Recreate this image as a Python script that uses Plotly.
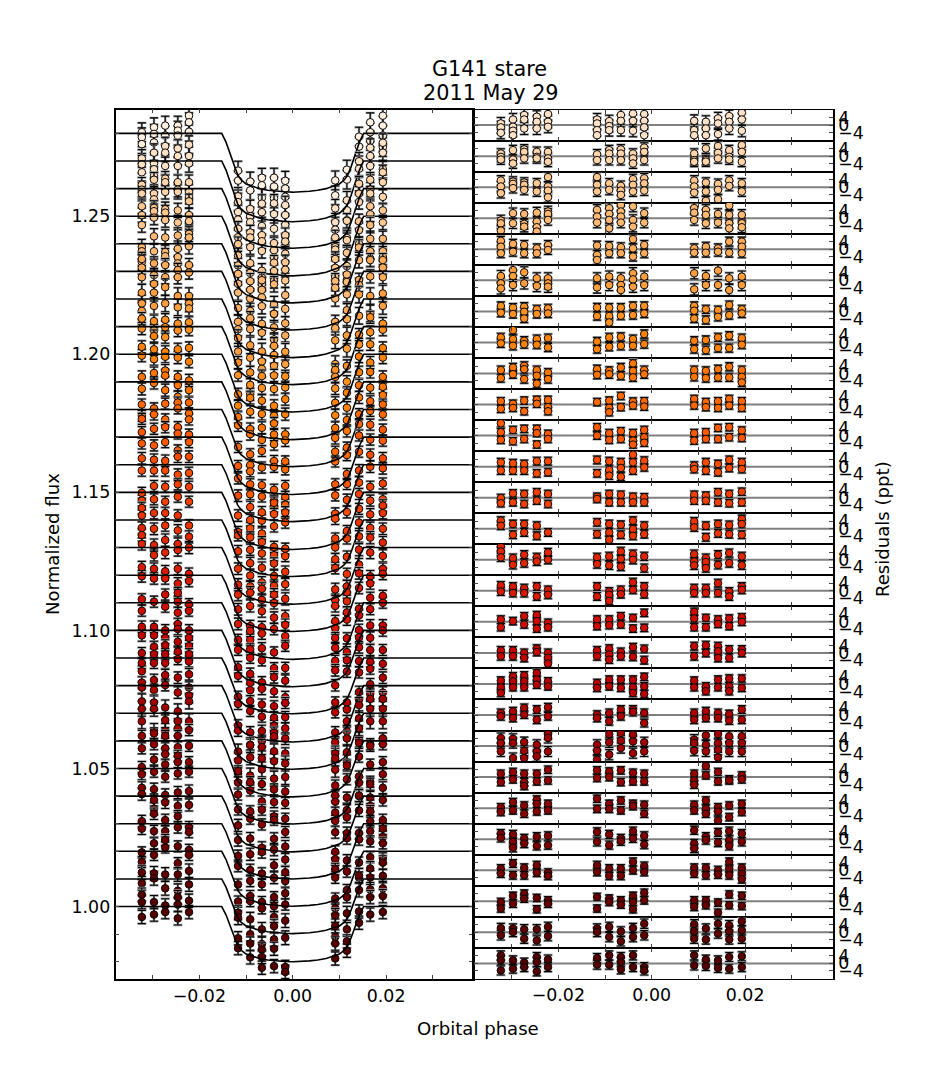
import numpy as np
import plotly.graph_objects as go

group_phase = [-0.0323, -0.0297, -0.0273, -0.0246, -0.0222,
               -0.0117, -0.0091, -0.0066, -0.0040, -0.0016,
               0.0091, 0.0116, 0.0142, 0.0166, 0.0193]

channel_base = [1.28, 1.27, 1.26, 1.25, 1.24, 1.23, 1.22, 1.21, 1.20, 1.19,
                1.18, 1.17, 1.16, 1.15, 1.14, 1.13, 1.12, 1.11, 1.10, 1.09,
                1.08, 1.07, 1.06, 1.05, 1.04, 1.03, 1.02, 1.01, 1.00]

channel_depth = [0.0213, 0.0220, 0.0216, 0.0216, 0.0214, 0.0212, 0.0212, 0.0210, 0.0209, 0.0209,
                 0.0207, 0.0208, 0.0206, 0.0207, 0.0205, 0.0205, 0.0204, 0.0205, 0.0204, 0.0202,
                 0.0204, 0.0203, 0.0203, 0.0201, 0.0202, 0.0200, 0.0199, 0.0198, 0.0200]

channel_error = [3.4, 3.2, 2.6, 2.6, 2.8, 2.4, 3.0, 2.2, 2.2, 2.2,
                 2.0, 2.0, 2.1, 2.0, 2.1, 2.2, 2.1, 2.0, 2.1, 2.0,
                 2.1, 2.7, 2.0, 2.0, 2.2, 2.1, 2.0, 2.5, 2.4]

channel_color = ["#FFF0E0", "#FFE2C5", "#FFD4A9", "#FFC68E", "#FFB973", "#FFAB58", "#FF9E3C", "#FF9021",
                 "#FF8205", "#FF7500", "#FF6700", "#FF5900", "#F84B00", "#F04000", "#E83400", "#E02600",
                 "#D81800", "#CE0C00", "#C40400", "#B80000", "#AC0000", "#9F0000", "#940000", "#880000",
                 "#7D0000", "#730000", "#680000", "#5E0000", "#540000"]

# transit model: phase vs fraction of the full depth
model_phase = [-0.0380, -0.0152, -0.01428, -0.01356, -0.01249, -0.01178, -0.01106, -0.00999, -0.00892,
               -0.00714, -0.00535, -0.00357, -0.00178, 0.0, 0.00178, 0.00357, 0.00535, 0.00714,
               0.00892, 0.00999, 0.01106, 0.01178, 0.01249, 0.01356, 0.01428, 0.0152, 0.0386]
model_shape = [0.0, 0.0, 0.15, 0.32, 0.57, 0.71, 0.79, 0.86, 0.89,
               0.94, 0.967, 0.983, 0.994, 1.0, 0.994, 0.983, 0.967, 0.94,
               0.89, 0.86, 0.79, 0.71, 0.57, 0.32, 0.15, 0.0, 0.0]

res_128 = [[.4,-1.4,-3.9],[2.2,-.2,-3.3],[2.8,-.8],[2.8,1,-.8],[6.4,4,.6],[1.8,-1.8],[1.4,-1.8],[4.1,1.4,-3.1],[4.8,1.6,-2.7],[4,1.2,-1.8],[1.8,-3.6],[2.4,-1.2],[2.4,-1.2],[4,.4,-2.7],[6.4,2.8,-.8,-5]]
res_127 = [[.9,-1.2,-4.1],[3,-.9,-3,-5.4],[5.4,3,-1.8],[4.5,1.8,-1.8],[5.9,1.8,-.9],[3,.9,-2.7,-5.4],[2.1,-.5,-2.7],[5.4,2.3,-2.7],[6.2,2.3,-3],[5.9,2.3,-1.2,-5.4],[2.3,-2.7,-5.4],[1.8,-1.8,-5.4],[3.6,.9,-4.8],[4.8,1.8,-1.8],[6.6,3,-3]]
res_126 = [[1.4,-.4,-1.8],[3.2,-1.8,-3.9],[3.6,2.3,-1.2],[2.3,-.4,-1.2],[2.3,-1.2,-3],[1,-2.1],[3.2,1.4,-2.1],[3.6,1.4,-2.1],[1.4,-1.2,-3.9],[4.6,2.3,-2.1],[1.4,-2.1,-3],[4.1,-2.1,-2.9],[5.4,1.8,-1.2],[3.2,-.4,-1.8],[5.9,2.3,-3]]
res_125 = [[3.6,.4,-3.2],[3,1.8,-.5],[2.5,1.3,-1.4],[2.1,-2.3],[5.4,.4,-1.8,-5.4],[5.4,1.3,-2.3],[2.1,-1.4],[.7,-1.8,-4.1],[4.3,1.3,-2.3],[4.8,2.1,-1.8],[3.6,.4,-2.9],[2.5,-2.3,-7.3],[1.8,-1.4,-6.4],[3.6,.7],[2.1,-2.3]]
res_124 = [[-1.2,-2.7,-6.6],[2.7,-2.7],[2.3,-3,-4.5],[3,-1.8,-4.8,-7.1],[3.6,2.3,-.9],[4.5,.9,-2.3],[5.4,2.3,-.9,-5.4],[7.1,3.6,.9,-2.3],[6.3,-.9,-4.5],[2.7,-2.3],[5.4,3,-.9],[4.5,1.8,-2.7],[2.3,-2.3],[6.8,1.8,-2.7,-5.4],[1.8,-2.7,-4.8]]
res_123 = [[4.5,1.4,-2.1],[2.9,-1.3],[2.3,-2.1],[.5,-2.1],[2.3,-.4],[2,-3,-5.7],[1.8,-2.1],[1.1,-2.1],[5.4,.5,-3.9],[2.3,-2.1],[.5,-1.8],[1.4,-1.8],[.5,-1.3],[4.1,-1.8],[4.1,1.4,-2.1]]
res_122 = [[2.3,-1.6,-4.3],[5.5,2.3,-2.5],[4.3,-1.6],[1.1,-3],[1.1,-1.6,-3.4],[1.1,-3.8],[2,-2.5],[1.1,-2.5,-5.2],[3.8,.5,-3.4],[2,-2.5],[3.8,-4.8],[2.3,-2.5],[5.2,-2.5],[1.1,-5.2],[2,-2.5]]
res_121 = [[2.9,-.7],[2,-1.4],[2.5,-.2,-3.8],[1.1,-1.4],[1.6,-1.1],[2.1,-2.5],[2,-2.5,-5.9],[2,-2.3],[2.9,-2],[2.9,-1.1],[2.9,.4,-3.8],[1.1,-4.6],[.7,-2.9],[3.4,-2],[1.1,-1.1]]
res_120 = [[2.7,-.5],[6.6,1.8,-1.8],[.9,-.9],[1.8,-1.2],[2.3,-2.7],[.5,-3.6],[2.7,-2.3],[3,-1.8],[1.8,-1.8],[4.5,-.9],[.9,-3.6],[1.3,-4.1],[2.7,-3],[3.6,-3],[2.3,-1.2]]
res_119 = [[1.8,-2.5],[3.2,-.4],[4.1,2.3,-3],[1.8,-1.2,-5.4],[.5,-3],[2.3,-.7],[1.4,-.4],[3.2,-1.2],[5.4,1.4,-2.1],[1.8,-.4],[1.8,-1.8],[1.4,-2.5],[2.3,-2.1],[3.6,-2.1],[1.8,-1.8,-4.8]]
res_118 = [[1.8,-2.3],[.4,-1.8],[2.1,-3.6],[2.5,.4],[2.5,-1.4,-3.6],[1.3],[2.1,-1.8,-4.1],[4.6,-1.4],[1.6,-.5],[1.8,-1.1],[3,-.5],[1.3,-1.4],[1.8,-1.8],[3,-.5],[1.8,-1.8]]
res_117 = [[6.6,1.8,-2.3],[3,-3],[3.6,-1.8],[3.6,1.3,-4.8],[.9,-1.8],[4.5,0],[1.3,-2.3],[2.3,-1.8],[1.3,-2.7,-4.8],[3,-.9,-3.8],[1.3,-2.7],[1.8,-1.8],[4.1,-1.8],[4.5,-.9],[2.7,-1.3]]
res_116 = [[2.3,-2.1],[1.8,-2.1],[1.4,-2.1],[2.9,-3.6],[2.9,-3],[3.6,-3.6],[2.9,-1.8,-4.8],[2.3,-.7,-5.4],[6.4,2.3,-2.1],[3.2,-.4],[.5,-1.3],[2.3,-2.1],[1.4,-3],[3.6,-.7],[2.3,-1.3]]
res_115 = [[-.2,-3],[2.3,-2.5],[2,-3.4],[2.9,-1.6],[2,-3.4],[.5,-.7],[2,-2.5],[1.6,-2.5],[.5,-2.5],[.2,-2.5],[1.6,-1.6],[1.1,-1.6],[2.9,-2.5],[2,-3],[3.2,-2.5]]
res_114 = [[4.3,1.6],[2.5,-3.2],[2.5,-2],[1.6,-3.8],[-2],[3.4,-2.9],[2.5,-2,-5.9],[2.1,-3.2],[4.3,-.2,-3.8],[1.6,-2.9],[3.9,.7],[1.6,-4.6],[2.5,-2.5],[2,-2.9],[5.2,2.5,-3.2]]
res_113 = [[7.1,4.5,1.3],[.9,-2.7],[2.7,-1.8],[1.3,-.9],[3.9,0],[1.3,-2.3],[1.8,-3],[4.5,.5,-3.6],[3,0],[1.8,-4.5],[3,-.9,-3],[.9,-1.2,-4.5],[2.7,-2.7],[3.6,-1.8],[1.8,-3]]
res_112 = [[2.9,-.4],[2.3,-1.2],[1.4,-1.2],[2.3,-3],[.5,-2.1],[2.3,-3],[-.4,-2.1,-5.4],[.5,-1.8],[4.6,.5],[2.3,-1.8],[1.4,-1.2],[1.4,-1.2],[4.1,-1.2],[-.4,-3],[2.3,.5]]
res_111 = [[1.3,-2.9],[.4],[3,-1.4],[3.6,.4,-3.6],[-.5,-2.9],[1.3,-2.3],[1.3,-1.8],[3,-1.4],[2.1,-3.6],[4.8,-3.2],[5.4,1.8,-2.9],[2.1,-2.9],[1.3,-1.1],[1.8,-2.3],[2.5,0]]
res_110 = [[1.3,-1.8],[1.3,-1.8],[0,-2.7],[2.3,.5],[0,-2.7,-5.7],[1.3,-1.8],[2.3,-.9,-3.6],[.5,-1.8],[3,-2.1],[2.1,-3.9],[3.6,-1.8],[4.1,0],[3.6,.9,-2.7],[1.8,-2.7],[1.8,0]]
res_109 = [[1.8,-1.8,-4.8],[4.1,1.4,-1.8],[4.6,1.4,-1.8],[5.9,2.3,-.4],[1.4,-1.3],[.5,-2.1],[2.3,-1.3],[2.3,-2.1],[2.3,-1.8,-4.8],[3.8,-1.3,-5.4],[1.8,-1.8],[-1.3,-3.9],[2.3,-1.8],[2.9,-1.3,-3.9],[2.9,-2.1]]
res_108 = [[1.1,-.7],[2,-1.6],[3.8,.2],[2.9,-2.5],[4.1,-.7],[.2,-1.6],[1.1,-3.4],[2.9,-.7],[2.9,1.6],[1.1,-4.3],[1.1,-2.5],[2,-1.6],[1.1,-1.6],[.5,-3],[2.9,-2.5]]
res_107 = [[4.3,1.6,-2.9],[3.9,1.6,-6.4],[2.1,-2.5,-6.4],[.7,-2.9,-5.5],[6.4,4.3,-2.9],[.7,-2.5,-7.3],[6.4,2,-4.6],[7,2.9,-1.1],[6.1,2.5,-3.8],[2,-2.9],[3.4,1.6,-2.5],[5.7,.7,-2.9],[6.4,1.6,-2,-6.1],[5.2,1.6,-2.9],[5.2,1.6,-2.9]]
res_106 = [[1.8,-2.7],[2.7,-1.2],[1.8,-2.7,-4.8],[1.8,-2.3],[3.9,-1.8],[3.6,-.5],[3,0],[3.6,-2.7],[2.3,-2.3],[1.8,-2.3],[1.8,-1.8,-4.1],[5.9,.9],[2.7,-2.3],[-1.2,-1.8],[.9,-1.2]]
res_105 = [[.5,-2.1],[3.2,-1.2],[1.4,-3],[4.6,2.3,-1.8],[2.3,-1.2],[5,-.4],[2.3,-.4],[4.1,-1.2],[2.3,1.1],[1.8,-3],[1.8,-1.2],[4.1,-.4,-3],[.5,-1.8,-6.6],[1.4,-4.8],[2.3,-2.1]]
res_104 = [[3,.7],[2.5,-1.4,-4.6],[.4,-2.3],[1.3,-3.6],[1.8,-3.2],[3.9,-1.4],[2.5,-3.2],[.4,-1.1],[4.3,.4],[1.8,-2.9],[4.8,-2.3,-5],[1.3,-.5],[3.6,-1.8],[4.3,-.5,-3.6],[3,-1.4]]
res_103 = [[.9,-1.8],[3.6,-2.7],[1.3,-2.7],[2.7,-1.3],[-1.3,-3],[2.7,-.9],[.9,-3],[.9,-3],[4.5,0],[2.3,-.9],[1.3,-1.8],[1.3,-2.7],[0,-2.3],[4.5,.9,-2.7],[1.3,-1.8,-4.8]]
res_102 = [[-.4,-3.9],[2.9,-1.3],[4.1,1.4],[1.8,-4.3],[.5,-1.3],[2.3,-3.9],[1.4,-.4],[.5,-1.8],[2.9,-.4,-4.3],[4.6,.5],[.5,-3],[.5,-2.1],[-.7,-6.1],[3.6,-2.1],[2.9,-2.5]]
res_101 = [[2.3,-1.6],[2,.2],[1.6,-3.4],[1.6,-4.3],[2.9,-2],[2,.2],[2.9,-2.5],[.5,-4.8],[2.3,-2.5],[4.6,-1.6],[4.3,.5,-3.4],[2,-3.8],[4.6,-.7],[3.8,.5,-3.8],[5.9,1.1,-3.4]]
res_100 = [[4.3,1.6,-3.8],[1.6,-2.9],[.4,-2],[3.4,.7,-4.3],[2.1,-2],[2.9,-.7],[4.3,-.7],[3.4,.7,-3.2],[4.3,-2],[-2,-3.8],[4.3,-1.1],[2,-1.4],[1.6,-2.5],[3.4,-2.9],[3.8,-2]]

residual_rows = [res_128, res_127, res_126, res_125, res_124, res_123, res_122, res_121, res_120, res_119,
                 res_118, res_117, res_116, res_115, res_114, res_113, res_112, res_111, res_110, res_109,
                 res_108, res_107, res_106, res_105, res_104, res_103, res_102, res_101, res_100]

left_yticks = [0.98, 0.99, 1.00, 1.01, 1.02, 1.03, 1.04, 1.05, 1.06, 1.07, 1.08, 1.09, 1.10, 1.11, 1.12,
               1.13, 1.14, 1.15, 1.16, 1.17, 1.18, 1.19, 1.20, 1.21, 1.22, 1.23, 1.24, 1.25, 1.26, 1.27, 1.28]
left_ylabels = ["", "", "1.00", "", "", "", "", "1.05", "", "", "", "", "1.10", "", "", "", "", "1.15", "",
                "", "", "", "1.20", "", "", "", "", "1.25", "", "", ""]
phase_ticks = [-0.03, -0.02, -0.01, 0.0, 0.01, 0.02, 0.03]
phase_labels = ["", "−0.02", "", "0.00", "", "0.02", ""]
res_ticks = [-8, -4, 0, 4, 8]
res_labels = ["", "−4", "0", "4", ""]

W, H = 926, 1090
L0, L1, R0, R1 = 115.5, 473.0, 474.0, 833.0
T, B = 108.0, 980.5
FONT = "DejaVu Sans"
FS = 17.4
LS = 18.1
INK = "#000000"

MSIZE, MLINE = 7.6, 1
CAP_GRAY = "#9c9c9c"

fig = go.Figure()


def expand(row):
    xs, ys = [], []
    for gx, vals in zip(group_phase, row):
        for v in vals:
            xs.append(gx)
            ys.append(v)
    return np.array(xs), np.array(ys)


def add_points(xs, ys, err, col, xa, ya):
    # grey halo under the black caps, as in the reference
    fig.add_trace(go.Scatter(x=xs, y=ys, mode="markers", xaxis=xa, yaxis=ya, showlegend=False,
                             marker=dict(size=1, opacity=0),
                             error_y=dict(type="constant", value=err, color=CAP_GRAY, thickness=2.4, width=4.6)))
    fig.add_trace(go.Scatter(x=xs, y=ys, mode="markers", xaxis=xa, yaxis=ya, showlegend=False,
                             marker=dict(size=MSIZE, color=col, line=dict(color="#0a0a0a", width=MLINE)),
                             error_y=dict(type="constant", value=err, color="#000000", thickness=1.1, width=4)))


# left panel: top channel first so darker channels sit on top
for base, depth, err, col, row in zip(channel_base, channel_depth, channel_error, channel_color, residual_rows):
    xs, rs = expand(row)
    model_at_x = base - depth * np.interp(xs, model_phase, model_shape)
    add_points(xs, model_at_x + rs / 1000.0, err / 1000.0, col, "x", "y")
    fig.add_trace(go.Scatter(
        x=model_phase, y=[base - depth * s for s in model_shape], mode="lines", xaxis="x", yaxis="y",
        showlegend=False, line=dict(color="#000000", width=1.6)))

layout = dict(
    width=W, height=H, margin=dict(l=0, r=0, t=0, b=0), paper_bgcolor="white", plot_bgcolor="white",
    showlegend=False, font=dict(family=FONT, size=FS, color=INK),
    xaxis=dict(domain=[L0 / W, L1 / W], range=[-0.03794, 0.0386], anchor="y", tickvals=phase_ticks,
               ticktext=phase_labels, ticks="inside", ticklen=4, tickwidth=1, mirror="ticks", showline=True,
               linecolor=INK, linewidth=1.5, showgrid=False, zeroline=False, tickfont=dict(size=FS, family=FONT)),
    yaxis=dict(domain=[1 - B / H, 1 - T / H], range=[0.9738, 1.2886], anchor="x", tickvals=left_yticks,
               ticktext=left_ylabels, ticks="inside", ticklen=4, tickwidth=1, mirror="ticks", showline=True,
               linecolor=INK, linewidth=1.5, showgrid=False, zeroline=False, tickfont=dict(size=FS, family=FONT)),
)

n_rows = 28
rh = (B - T) / n_rows
for i in range(n_rows):
    k = i + 2
    chan = i + 1
    xs, rs = expand(residual_rows[chan])
    fig.add_trace(go.Scatter(x=[-0.0385, 0.039], y=[0, 0], mode="lines", xaxis=f"x{k}", yaxis=f"y{k}",
                             showlegend=False, line=dict(color="#808080", width=2)))
    add_points(xs, rs, channel_error[chan], channel_color[chan], f"x{k}", f"y{k}")
    last = i == n_rows - 1
    layout[f"xaxis{k}"] = dict(domain=[R0 / W, R1 / W], range=[-0.03805, 0.03882], anchor=f"y{k}",
                               tickvals=phase_ticks, ticktext=phase_labels, ticks="inside", ticklen=4, tickwidth=1,
                               mirror="ticks", showline=True, linecolor=INK, linewidth=1, showgrid=False,
                               zeroline=False, showticklabels=last, tickfont=dict(size=FS, family=FONT))
    layout[f"yaxis{k}"] = dict(domain=[1 - (T + rh * (i + 1)) / H, 1 - (T + rh * i) / H], range=[-8.3, 8.3],
                               anchor=f"x{k}", side="right", tickvals=res_ticks, ticktext=res_labels, ticks="inside",
                               ticklen=4, tickwidth=1, mirror="ticks", showline=True, linecolor=INK, linewidth=1.5,
                               showgrid=False, zeroline=False, tickfont=dict(size=FS, family=FONT))

layout["annotations"] = [
    dict(text="G141 stare", x=489 / W, y=1 - 67 / H, xref="paper", yref="paper", showarrow=False,
         xanchor="center", yanchor="middle", font=dict(size=20.8, family=FONT)),
    dict(text="2011 May 29", x=491 / W, y=1 - 91 / H, xref="paper", yref="paper", showarrow=False,
         xanchor="center", yanchor="middle", font=dict(size=20.8, family=FONT)),
    dict(text="Orbital phase", x=477.5 / W, y=1 - 1030 / H, xref="paper", yref="paper", showarrow=False,
         xanchor="center", yanchor="middle", font=dict(size=LS, family=FONT)),
    dict(text="Normalized flux", x=52 / W, y=1 - 544 / H, xref="paper", yref="paper", showarrow=False, textangle=-90,
         xanchor="center", yanchor="middle", font=dict(size=LS, family=FONT)),
    dict(text="Residuals (ppt)", x=882 / W, y=1 - 529 / H, xref="paper", yref="paper", showarrow=False, textangle=-90,
         xanchor="center", yanchor="middle", font=dict(size=LS, family=FONT)),
]

fig.update_layout(**layout)
fig.write_html("out.html", post_script="document.body.style.margin='0';", config={"displayModeBar": False})
